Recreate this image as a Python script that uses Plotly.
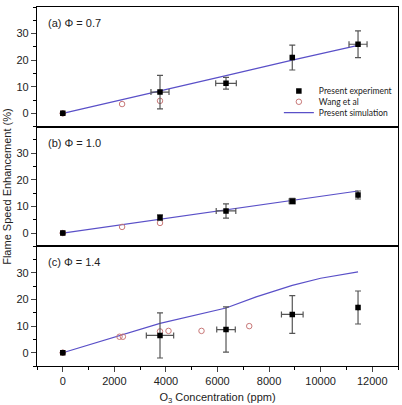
import plotly.graph_objects as go
from plotly.subplots import make_subplots

# ---- data ----
exp_x = [0, 3770, 6330, 8900, 11450]

# (a) phi = 0.7
a_exp_y = [0, 8.0, 11.3, 21.0, 26.0]
a_exp_ey = [0, 6.3, 2.2, 4.7, 5.0]
a_exp_ex = [0, 350, 400, 0, 350]
a_wang_x = [0, 2300, 3770]
a_wang_y = [0, 3.5, 4.7]
a_sim_x = [0, 3770, 6330, 8900, 11450]
a_sim_y = [0, 8.3, 14.2, 20.0, 25.6]

# (b) phi = 1.0
b_exp_y = [0, 5.8, 8.3, 12.0, 14.3]
b_exp_ey = [0, 1.0, 2.7, 1.0, 1.5]
b_exp_ex = [0, 0, 380, 120, 0]
b_wang_x = [0, 2300, 3770]
b_wang_y = [0, 2.3, 3.8]
b_sim_x = [0, 3770, 6330, 8900, 11450]
b_sim_y = [0, 5.2, 8.5, 12.2, 15.8]

# (c) phi = 1.4
c_exp_y = [0, 6.5, 8.7, 14.4, 17.0]
c_exp_ey = [0, 8.5, 8.5, 7.1, 6.2]
c_exp_ex = [0, 530, 360, 420, 0]
c_wang_x = [0, 2200, 2330, 3770, 4100, 5380, 7230]
c_wang_y = [0, 6.0, 6.0, 8.0, 8.2, 8.2, 10.0]
c_sim_x = [0, 2200, 3770, 6330, 7500, 8900, 10000, 11450]
c_sim_y = [0, 6.3, 11.0, 16.8, 21.0, 25.3, 28.0, 30.4]

panel_labels = ["(a) Φ = 0.7", "(b) Φ = 1.0", "(c) Φ = 1.4"]
x_ticks = [0, 2000, 4000, 6000, 8000, 10000, 12000]
x_ticktext = ["0", "2000", "4000", "6000", "8000", "10000", "12000"]
y_ticks = [0, 10, 20, 30]

EXP_C = "black"
ERR_C = "#555555"
WANG_C = "#c87878"
SIM_C = "#5a50c8"

fig = make_subplots(rows=3, cols=1, shared_xaxes=True, vertical_spacing=0)

panels = [
    (a_exp_y, a_exp_ey, a_exp_ex, a_wang_x, a_wang_y, a_sim_x, a_sim_y),
    (b_exp_y, b_exp_ey, b_exp_ex, b_wang_x, b_wang_y, b_sim_x, b_sim_y),
    (c_exp_y, c_exp_ey, c_exp_ex, c_wang_x, c_wang_y, c_sim_x, c_sim_y),
]

for i, (ey, eey, eex, wx, wy, sx, sy) in enumerate(panels):
    row = i + 1
    first = i == 0
    fig.add_trace(go.Scatter(
        x=sx, y=sy, mode="lines", name="Present simulation",
        line=dict(color=SIM_C, width=1.2), showlegend=first,
        legend="legend3"), row=row, col=1)
    fig.add_trace(go.Scatter(
        x=wx, y=wy, mode="markers", name="Wang et al",
        marker=dict(symbol="circle-open", size=5.5, color=WANG_C, line=dict(width=1)),
        showlegend=first, legend="legend2"), row=row, col=1)
    fig.add_trace(go.Scatter(
        x=exp_x, y=ey, mode="markers", name="Present experiment",
        marker=dict(symbol="square", size=5.5, color=EXP_C),
        error_y=dict(type="data", array=eey, color=ERR_C, thickness=1.2, width=3),
        error_x=dict(type="data", array=eex, color=ERR_C, thickness=1.2, width=3),
        showlegend=first, legend="legend"), row=row, col=1)

    fig.update_yaxes(
        range=[-5, 40], tickvals=y_ticks, ticks="outside", ticklen=5,
        minor=dict(dtick=5, tick0=0, ticks="outside", ticklen=3, tickcolor="black"),
        showline=True, linecolor="black", linewidth=1.3, mirror=True,
        showgrid=False, zeroline=False, tickfont=dict(size=11, color="#222"),
        row=row, col=1)
    fig.update_xaxes(
        range=[-1000, 13000], showline=True, linecolor="black", linewidth=1.3,
        mirror=True, showgrid=False, zeroline=False, row=row, col=1)
    fig.add_annotation(
        text=panel_labels[i], xref="x domain" if row == 1 else f"x{row} domain",
        yref="y domain" if row == 1 else f"y{row} domain",
        x=0.025, y=0.865, xanchor="left", yanchor="middle", showarrow=False,
        font=dict(size=11, color="#222"))

fig.update_xaxes(
    tickvals=x_ticks, ticktext=x_ticktext, ticks="outside", ticklen=5,
    minor=dict(dtick=1000, tick0=0, ticks="outside", ticklen=3, tickcolor="black"),
    tickfont=dict(size=11, color="#222"),
    title=dict(text="O<sub>3</sub> Concentration (ppm)", font=dict(size=11, color="#222"), standoff=6),
    row=3, col=1)

fig.add_annotation(
    text="Flame Speed Enhancement (%)", xref="paper", yref="paper",
    x=-0.085, y=0.5, textangle=-90, showarrow=False,
    xanchor="center", yanchor="middle", font=dict(size=11, color="#222"))

leg_common = dict(xanchor="left", yanchor="middle", bgcolor="rgba(0,0,0,0)",
                  font=dict(size=8.5, family="Lato, Open Sans, sans-serif", color="#222"),
                  itemwidth=30)

fig.update_layout(
    width=402, height=405,
    margin=dict(l=37, r=4, t=7, b=39),
    paper_bgcolor="white", plot_bgcolor="white",
    font=dict(family="Liberation Sans, Arial, sans-serif"),
    legend=dict(x=0.67, y=0.766, **leg_common),
    legend2=dict(x=0.67, y=0.736, **leg_common),
    legend3=dict(x=0.67, y=0.706, **leg_common),
)

fig.write_html("out.html")
